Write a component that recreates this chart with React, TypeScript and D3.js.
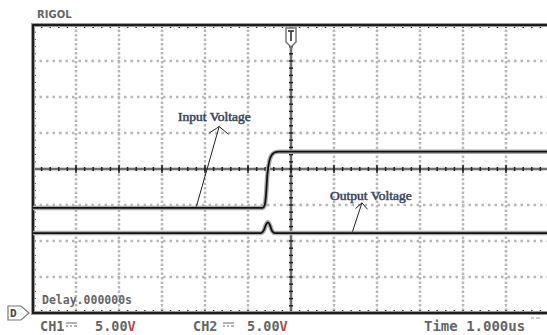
import React from "react";
import * as d3 from "d3";

// scope screen: 12 time divisions (1 us/div), 8 vertical divisions (5 V/div)
const timeTicks = [-6, -5, -4, -3, -2, -1, 0, 1, 2, 3, 4, 5, 6];
const voltTicks = [-20, -15, -10, -5, 0, 5, 10, 15, 20];

// CH1 input voltage (time us, volts)
const inputTime = [-6, -0.66, -0.61, -0.58, -0.55, -0.5, -0.44, -0.36, -0.28, 6];
const inputVolt = [-5.4, -5.4, -5.0, -3.5, -0.8, 1.2, 2.0, 2.35, 2.4, 2.4];

// CH2 output voltage
const outputTime = [-6, -0.7, -0.63, -0.58, -0.54, -0.49, -0.44, -0.37, 6];
const outputVolt = [-8.9, -8.9, -8.5, -7.7, -7.4, -7.8, -8.6, -8.9, -8.9];

const width = 547;
const height = 335;

export default function App() {
  const x = d3.scaleLinear().domain([-6, 6]).range([33, 549]);
  const y = d3.scaleLinear().domain([-20, 20]).range([313, 25]);

  const line = d3
    .line<[number, number]>()
    .x((d) => x(d[0]))
    .y((d) => y(d[1]))
    .curve(d3.curveMonotoneX);

  const inputPath = line(inputTime.map((t, i) => [t, inputVolt[i]]));
  const outputPath = line(outputTime.map((t, i) => [t, outputVolt[i]]));

  // minor ticks every 1/5 division
  const minorT = d3.range(-6, 6.001, 0.2);
  const minorV = d3.range(-20, 20.001, 1);

  const scopeFont = "'DejaVu Sans Mono', monospace";
  const textCol = "#666";

  return (
    <svg
      width={width}
      height={height}
      style={{ position: "absolute", left: 0, top: 0, background: "#fff" }}
    >
      <text x={37} y={18} fontFamily="'DejaVu Sans', sans-serif" fontWeight="bold" fontSize={10} fill="#666">
        RIGOL
      </text>

      {/* dotted grid */}
      {timeTicks.slice(1, -1).filter((t) => t !== 0).map((t) => (
        <line key={"vg" + t} x1={x(t)} x2={x(t)} y1={y(20)} y2={y(-20)}
          stroke="#b8b8b8" strokeWidth={2.5} strokeDasharray="2.5 2" />
      ))}
      {voltTicks.slice(1, -1).filter((v) => v !== 0).map((v) => (
        <line key={"hg" + v} x1={x(-6)} x2={x(6)} y1={y(v)} y2={y(v)}
          stroke="#b8b8b8" strokeWidth={2.5} strokeDasharray="2.5 4" />
      ))}

      {/* center axes */}
      <line x1={x(-6)} x2={x(6)} y1={y(0)} y2={y(0)} stroke="#aaa" strokeWidth={3} />
      <line x1={x(-6)} x2={x(6)} y1={y(0)} y2={y(0)} stroke="#333" strokeWidth={1} />
      <line x1={x(0)} x2={x(0)} y1={y(20)} y2={y(-20)} stroke="#aaa" strokeWidth={3} />
      <line x1={x(0)} x2={x(0)} y1={y(20)} y2={y(-20)} stroke="#333" strokeWidth={1} />
      {minorT.map((t) => (
        <line key={"ct" + t} x1={x(t)} x2={x(t)} y1={y(0) - 2} y2={y(0) + 2} stroke="#222" strokeWidth={1.5} />
      ))}
      {minorV.map((v) => (
        <line key={"cv" + v} x1={x(0) - 2} x2={x(0) + 2} y1={y(v)} y2={y(v)} stroke="#222" strokeWidth={1.5} />
      ))}
      {timeTicks.map((t) => (
        <line key={"cm" + t} x1={x(t)} x2={x(t)} y1={y(0) - 4} y2={y(0) + 4} stroke="#222" strokeWidth={1.5} />
      ))}

      {/* frame ticks */}
      {minorT.map((t) => (
        <g key={"ft" + t}>
          <line x1={x(t)} x2={x(t)} y1={y(20)} y2={y(20) + 3} stroke="#333" strokeWidth={1.5} />
          <line x1={x(t)} x2={x(t)} y1={y(-20)} y2={y(-20) - 3} stroke="#333" strokeWidth={1.5} />
        </g>
      ))}
      {minorV.map((v) => (
        <line key={"fl" + v} x1={x(-6)} x2={x(-6) + 3} y1={y(v)} y2={y(v)} stroke="#555" strokeWidth={1} />
      ))}

      {/* frame */}
      <rect x={x(-6)} y={y(20)} width={x(6) - x(-6)} height={y(-20) - y(20)}
        fill="none" stroke="#999" strokeWidth={4} />
      <rect x={x(-6)} y={y(20)} width={x(6) - x(-6)} height={y(-20) - y(20)}
        fill="none" stroke="#111" strokeWidth={1.8} />

      {/* trigger marker */}
      <path d={`M${x(0) - 5},${y(20) + 3} h10 v14 l-5,5 l-5,-5 Z`} fill="#fff" stroke="#777" strokeWidth={1.5} />
      <path d={`M${x(0) - 3},${y(20) + 6} h6 M${x(0)},${y(20) + 6} v10`} stroke="#222" strokeWidth={1.5} />

      {/* traces */}
      <path d={inputPath ?? ""} fill="none" stroke="#aaa" strokeWidth={4.5} />
      <path d={inputPath ?? ""} fill="none" stroke="#111" strokeWidth={1.8} />
      <path d={outputPath ?? ""} fill="none" stroke="#aaa" strokeWidth={4.5} />
      <path d={outputPath ?? ""} fill="none" stroke="#111" strokeWidth={1.8} />

      {/* annotations */}
      <text x={178} y={121} fontFamily="'Liberation Serif', serif" fontSize={13.5} fill="#1a1a30"
        stroke="#4a5a70" strokeWidth={0.6}>
        Input Voltage
      </text>
      <line x1={x(-2.2)} x2={x(-1.67)} y1={y(-5.2)} y2={y(5.9)} stroke="#222" strokeWidth={1} />
      <path d={`M${x(-1.9)},${y(5.0)} L${x(-1.67)},${y(5.9)} L${x(-1.45)},${y(4.8)}`} fill="none" stroke="#222" strokeWidth={1} />

      <text x={330} y={200} fontFamily="'Liberation Serif', serif" fontSize={13.5} fill="#1a1a30"
        stroke="#4a5a70" strokeWidth={0.6}>
        Output Voltage
      </text>
      <line x1={x(1.43)} x2={x(1.65)} y1={y(-8.7)} y2={y(-4.7)} stroke="#222" strokeWidth={1} />
      <path d={`M${x(1.5)},${y(-5.5)} L${x(1.65)},${y(-4.7)} L${x(1.78)},${y(-5.6)}`} fill="none" stroke="#222" strokeWidth={1} />

      {/* scope readouts */}
      <text x={42} y={304} fontFamily={scopeFont} fontWeight="bold" fontSize={11.5} fill={textCol}>
        Delay.000000s
      </text>
      <g>
        <path d="M8,306 h13 l8,7 l-8,7 h-13 Z" fill="#fff" stroke="#777" strokeWidth={1.2} />
        <text x={10} y={317} fontFamily={scopeFont} fontWeight="bold" fontSize={11} fill="#444">D</text>
      </g>

      <text x={40} y={331} fontFamily={scopeFont} fontWeight="bold" fontSize={13.5} fill={textCol}>CH1</text>
      <path d="M66,323 h11 M66,326 h2 M70,326 h2 M74,326 h3" stroke={textCol} strokeWidth={1} />
      <text x={95} y={331} fontFamily={scopeFont} fontWeight="bold" fontSize={13.5} fill={textCol}>
        5.00<tspan fill="#b44">V</tspan>
      </text>

      <text x={193} y={331} fontFamily={scopeFont} fontWeight="bold" fontSize={13.5} fill={textCol}>CH2</text>
      <path d="M223,323 h11 M223,326 h2 M227,326 h2 M231,326 h3" stroke={textCol} strokeWidth={1} />
      <text x={247} y={331} fontFamily={scopeFont} fontWeight="bold" fontSize={13.5} fill={textCol}>
        5.00<tspan fill="#b44">V</tspan>
      </text>

      <text x={424} y={331} fontFamily={scopeFont} fontWeight="bold" fontSize={14} fill={textCol}>
        Time 1.000us
      </text>
      <path d="M531,318 h3 M536,318 h4" stroke="#999" strokeWidth={1} />
    </svg>
  );
}
